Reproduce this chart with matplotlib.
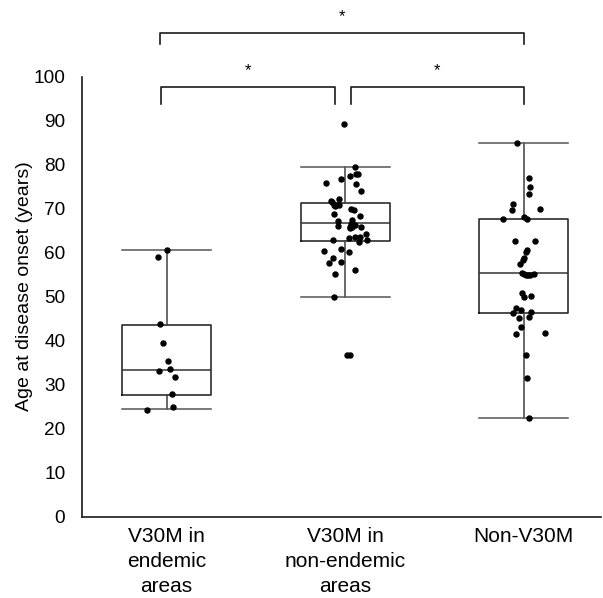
import matplotlib
matplotlib.use("Agg")
import matplotlib.pyplot as plt

plt.rcParams['font.family'] = ['Liberation Sans', 'DejaVu Sans']

# --- data ---
groups = ["V30M in\nendemic\nareas", "V30M in\nnon-endemic\nareas", "Non-V30M"]

# box statistics (years)
q1 = [27.7, 62.8, 46.4]
med = [33.4, 66.8, 55.5]
q3 = [43.6, 71.3, 67.8]
whislo = [24.5, 49.9, 22.4]
whishi = [60.7, 79.5, 85.1]

# individual patients: age and horizontal jitter
g1_age = [60.7, 59.0, 43.8, 39.6, 35.5, 33.7, 33.2, 31.7, 27.9, 25.1, 24.4]
g1_jit = [0.0, -0.046, -0.037, -0.018, 0.009, 0.021, -0.041, 0.046, 0.032, 0.035, -0.108]

g2_age = [89.2, 79.6, 78.0, 78.0, 77.4, 76.7, 76.0, 75.7, 74.1, 72.3, 71.9, 71.6,
          70.8, 70.8, 70.8, 70.6, 69.9, 69.7, 68.9, 68.5, 67.3, 67.5, 66.6, 66.4,
          66.0, 65.8, 65.6, 66.2, 65.8, 64.3, 63.7, 63.7, 63.5, 63.0, 63.0, 62.6,
          60.9, 60.5, 60.3, 58.9, 58.0, 57.7, 56.2, 55.2, 50.1, 36.8, 36.8]
g2_jit = [-0.009, 0.057, 0.061, 0.071, 0.024, -0.021, -0.108, 0.060, 0.091, -0.037, -0.078, -0.074,
          -0.061, -0.049, -0.037, -0.056, 0.033, 0.049, -0.061, 0.084, -0.041, 0.037, 0.030, 0.054,
          0.037, 0.028, 0.026, -0.043, 0.088, 0.119, 0.080, 0.052, 0.021, -0.071, 0.123, 0.078,
          -0.026, -0.121, 0.021, -0.067, -0.024, -0.091, 0.054, -0.057, -0.063, 0.008, 0.028]

g3_age = [85.1, 77.0, 75.1, 73.3, 71.2, 69.7, 69.9, 67.7, 68.2, 67.7, 62.8, 62.8,
          60.7, 60.2, 58.8, 58.4, 57.4, 55.5, 55.2, 55.0, 54.9, 55.0, 55.3, 51.0,
          50.1, 50.2, 47.4, 47.0, 46.5, 46.3, 45.3, 45.4, 43.2, 41.5, 41.9, 36.9,
          31.6, 22.5]
g3_jit = [-0.038, 0.029, 0.035, 0.031, -0.062, -0.064, 0.088, -0.118, -0.001, 0.020, -0.051, 0.062,
          0.018, 0.010, 0.003, -0.007, -0.020, -0.012, -0.001, 0.012, 0.025, 0.036, 0.055, -0.008,
          -0.001, 0.042, -0.046, -0.018, 0.038, -0.059, -0.027, 0.027, -0.018, -0.046, 0.116, 0.014,
          0.020, 0.031]

# significance brackets: (x start, x end, top y, leg y, star y)
brackets = [(0.97, 1.94, 97.8, 93.9, 101.5),
            (2.03, 3.0, 97.8, 93.9, 101.5),
            (0.96, 3.0, 110.0, 107.5, 113.6)]

# --- figure ---
fig = plt.figure(figsize=(6.03, 5.98), dpi=100)
ax = fig.add_axes([0.136, 0.1355, 0.86, 0.7358])

stats = []
for i in range(3):
    stats.append(dict(med=med[i], q1=q1[i], q3=q3[i],
                      whislo=whislo[i], whishi=whishi[i], fliers=[]))

ax.bxp(stats, positions=[1, 2, 3], widths=0.5, showfliers=False,
       boxprops=dict(color='#1a1a1a', linewidth=1.1),
       medianprops=dict(color='#333333', linewidth=1.1),
       whiskerprops=dict(color='#404040', linewidth=1.1),
       capprops=dict(color='#555555', linewidth=1.1),
       capwidths=0.5)

for pos, ages, jit in [(1, g1_age, g1_jit), (2, g2_age, g2_jit), (3, g3_age, g3_jit)]:
    xs = [pos + j for j in jit]
    ax.plot(xs, ages, 'o', color='black', markersize=3.6, zorder=3)

for x0, x1, ytop, yleg, ystar in brackets:
    ax.plot([x0, x0, x1, x1], [yleg, ytop, ytop, yleg], color='#1a1a1a',
            linewidth=1.2, clip_on=False)
    ax.text((x0 + x1) / 2, ystar, '*', ha='center', va='center', fontsize=12,
            clip_on=False)

ax.set_xlim(0.526, 3.43)
ax.set_ylim(0, 100)
ax.set_yticks(range(0, 101, 10))
ax.set_xticks([1, 2, 3])
ax.set_xticklabels(groups, fontsize=15, linespacing=1.42, va='top')
ax.tick_params(axis='y', labelsize=13.7, length=0, pad=12)
ax.tick_params(axis='x', length=0, pad=7)
ax.set_ylabel("Age at disease onset (years)", fontsize=14)
ax.yaxis.set_label_coords(-0.094, 0.524)

for s in ['top', 'right']:
    ax.spines[s].set_visible(False)
for s in ['left', 'bottom']:
    ax.spines[s].set_color('#1a1a1a')
    ax.spines[s].set_linewidth(1.2)

fig.savefig("out.png", dpi=100)
